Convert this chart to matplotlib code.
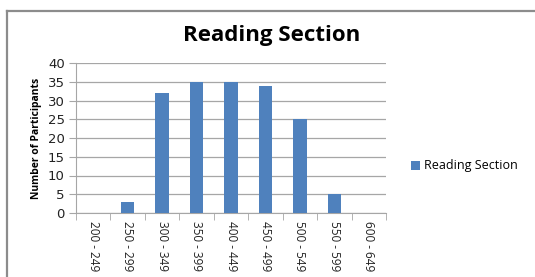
import matplotlib
matplotlib.use("Agg")
import matplotlib.pyplot as plt
from matplotlib.lines import Line2D
import numpy as np

categories = ["200 - 249", "250 - 299", "300 - 349", "350 - 399", "400 - 449",
              "450 - 499", "500 - 549", "550 - 599", "600 - 649"]
values = [0, 3, 32, 35, 35, 34, 25, 5, 0]
series_name = "Reading Section"
yticks = [0, 5, 10, 15, 20, 25, 30, 35, 40]

W, H = 535, 277
fig = plt.figure(figsize=(W / 100, H / 100), dpi=100)
fig.patch.set_facecolor("white")

# outer frame
fig.add_artist(Line2D([7 / W, 7 / W], [0, 1 - 10.5 / H], color="#8c8c8c", lw=1.6, transform=fig.transFigure))
fig.add_artist(Line2D([7 / W, 1], [1 - 10.5 / H, 1 - 10.5 / H], color="#8c8c8c", lw=1.6, transform=fig.transFigure))

left, right, top, bottom = 76, 386, 63, 213
ax = fig.add_axes([left / W, 1 - bottom / H, (right - left) / W, (bottom - top) / H])

x = np.arange(len(categories))
bars = ax.bar(x, values, width=0.39, color="#4f81bd", label=series_name, zorder=3)

ax.set_xlim(-0.5, len(categories) - 0.5)
ax.set_ylim(0, 40)
ax.set_yticks(yticks)
ax.yaxis.grid(True, color="#a6a6a6", lw=0.9, zorder=0)
for s in ["top", "right"]:
    ax.spines[s].set_visible(False)
ax.spines["left"].set_color("#a6a6a6")
ax.spines["bottom"].set_color("#a6a6a6")
ax.tick_params(axis="y", length=5, color="#a6a6a6", labelsize=9.5, pad=3, labelcolor="#222222")

ax.set_xticks(np.arange(len(categories) + 1) - 0.5, minor=True)
ax.set_xticks(x)
ax.set_xticklabels(categories, rotation=-90, fontsize=8.5, color="#222222")
ax.tick_params(axis="x", which="major", length=0, pad=6)
ax.tick_params(axis="x", which="minor", length=5, color="#a6a6a6")
for lab in ax.get_xticklabels():
    lab.set_family("Open Sans")

ax.set_ylabel("Number of Participants", fontsize=7.5, fontweight="bold", family="Open Sans", labelpad=4)

fig.text(272 / W, 1 - 35 / H, "Reading Section", ha="center", va="center",
         fontsize=16, fontweight="bold", family="Open Sans")

leg = fig.legend(handles=[bars], labels=[series_name], loc="center left",
                 bbox_to_anchor=(400 / W, 1 - 166 / H), frameon=False,
                 prop={"family": "Open Sans", "size": 9}, handlelength=0.7,
                 handleheight=0.7, handletextpad=0.3)

fig.savefig("out.png", dpi=100)
